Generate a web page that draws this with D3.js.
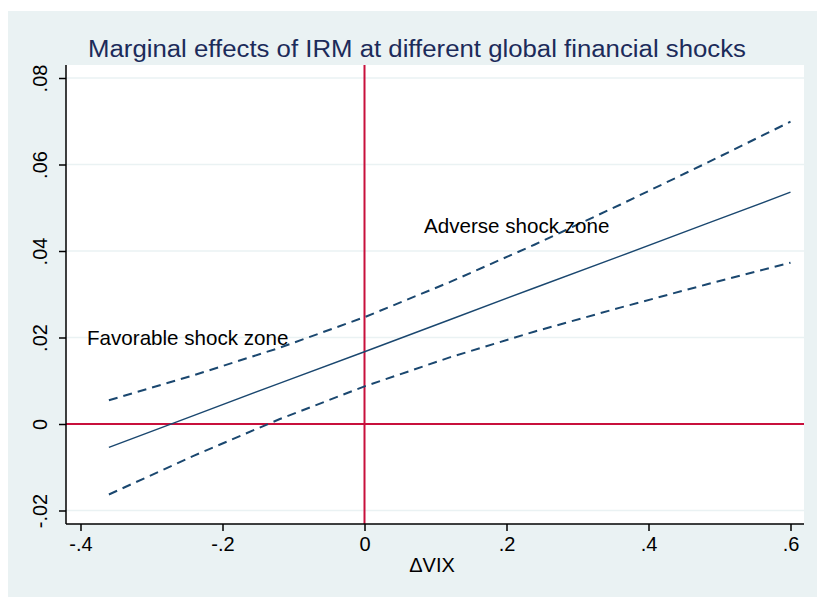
<!DOCTYPE html>
<html>
<head>
<meta charset="utf-8">
<script src="https://cdn.jsdelivr.net/npm/d3@7/dist/d3.min.js"></script>
<style>
  body { margin: 0; background: #fff; }
  text { font-family: "Liberation Sans", Arial, Helvetica, sans-serif; }
</style>
</head>
<body>
<svg id="chart" width="817" height="597"></svg>
<script>
// values
var vix   = [-0.36, -0.24, -0.12, 0, 0.12, 0.24, 0.36, 0.48, 0.6];
var me    = [-0.0054, 0.0020, 0.0094, 0.0167, 0.0241, 0.0315, 0.0388, 0.0462, 0.0536];
var upper = [0.0055, 0.0113, 0.0176, 0.0247, 0.0328, 0.0415, 0.0507, 0.0602, 0.0699];
var lower = [-0.0163, -0.0073, 0.0011, 0.0087, 0.0154, 0.0214, 0.0269, 0.0322, 0.0373];
var xTicks = [-0.4, -0.2, 0, 0.2, 0.4, 0.6];
var yTicks = [-0.02, 0, 0.02, 0.04, 0.06, 0.08];

var fmt = function (v) {
  if (v === 0) return "0";
  var s = String(+v.toFixed(2));
  return s.replace("0.", ".");
};

var svg = d3.select("#chart");

// outer graph region
svg.append("rect").attr("x", 8).attr("y", 11).attr("width", 809).attr("height", 586)
  .attr("fill", "#eaf2f3");

var plot = { left: 66, right: 804, top: 65, bottom: 524 };

var x = d3.scaleLinear().domain([-0.4, 0.6]).range([80.5, 790.5]);
var y = d3.scaleLinear().domain([0, 0.08]).range([424, 78]);

svg.append("rect").attr("x", plot.left).attr("y", plot.top)
  .attr("width", plot.right - plot.left).attr("height", plot.bottom - plot.top)
  .attr("fill", "#fff");

// grid lines
svg.append("g").selectAll("line").data(yTicks).enter().append("line")
  .attr("x1", plot.left).attr("x2", plot.right)
  .attr("y1", function (d) { return y(d); }).attr("y2", function (d) { return y(d); })
  .attr("stroke", "#eaf2f3").attr("stroke-width", 1.5);

// reference lines
svg.append("line").attr("x1", plot.left).attr("x2", plot.right)
  .attr("y1", y(0)).attr("y2", y(0))
  .attr("stroke", "#c8103c").attr("stroke-width", 2);
svg.append("line").attr("x1", x(0)).attr("x2", x(0))
  .attr("y1", plot.top).attr("y2", plot.bottom)
  .attr("stroke", "#c8103c").attr("stroke-width", 2);

// lines
var line = function (vals) {
  return d3.line().x(function (d, i) { return x(vix[i]); })
    .y(function (d) { return y(d); })(vals);
};
svg.append("path").attr("d", line(upper)).attr("fill", "none")
  .attr("stroke", "#1a476f").attr("stroke-width", 2).attr("stroke-dasharray", "9,6");
svg.append("path").attr("d", line(lower)).attr("fill", "none")
  .attr("stroke", "#1a476f").attr("stroke-width", 2).attr("stroke-dasharray", "9,6");
svg.append("path").attr("d", line(me)).attr("fill", "none")
  .attr("stroke", "#1a476f").attr("stroke-width", 1.4);

// axes
var xAxis = d3.axisBottom(x).tickValues(xTicks).tickFormat(fmt).tickSize(7).tickPadding(6);
var gx = svg.append("g").attr("transform", "translate(0," + plot.bottom + ")").call(xAxis);
gx.select(".domain").attr("d", "M" + plot.left + ",0H" + plot.right)
  .attr("stroke", "#000").attr("stroke-width", 1.5);
gx.selectAll(".tick line").attr("stroke", "#000").attr("stroke-width", 1.5);
gx.selectAll(".tick text").attr("font-size", 20).attr("fill", "#000")
  .attr("font-family", "Liberation Sans, Arial, sans-serif");

var yAxis = d3.axisLeft(y).tickValues(yTicks).tickFormat(fmt).tickSize(7).tickPadding(6);
var gy = svg.append("g").attr("transform", "translate(" + plot.left + ",0)").call(yAxis);
gy.select(".domain").attr("d", "M0," + plot.top + "V" + plot.bottom)
  .attr("stroke", "#000").attr("stroke-width", 1.5);
gy.selectAll(".tick line").attr("stroke", "#000").attr("stroke-width", 1.5);
gy.selectAll(".tick text").attr("font-size", 20).attr("fill", "#000")
  .attr("font-family", "Liberation Sans, Arial, sans-serif")
  .attr("x", null).attr("dy", null)
  .attr("text-anchor", "middle")
  .attr("transform", "translate(-19,0) rotate(-90)");

// titles and labels
svg.append("text").attr("x", 417).attr("y", 56.5).attr("text-anchor", "middle")
  .attr("font-size", 23).attr("fill", "#1c2b5a")
  .attr("textLength", 658).attr("lengthAdjust", "spacingAndGlyphs")
  .text("Marginal effects of IRM at different global financial shocks");

svg.append("text").attr("x", 432).attr("y", 572)
  .attr("text-anchor", "middle").attr("font-size", 20).attr("fill", "#000")
  .text("\u0394VIX");

svg.append("text").attr("x", 424).attr("y", 233).attr("font-size", 20.6).attr("fill", "#000")
  .text("Adverse shock zone");
svg.append("text").attr("x", 87).attr("y", 345).attr("font-size", 20.6).attr("fill", "#000")
  .text("Favorable shock zone");
</script>
</body>
</html>
